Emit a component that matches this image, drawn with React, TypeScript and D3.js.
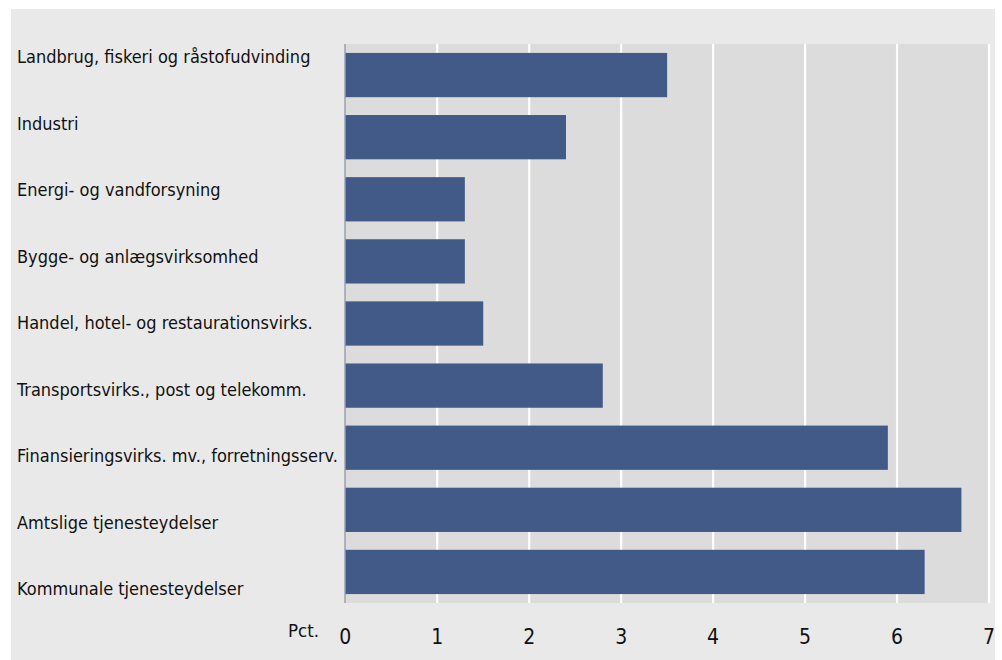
import React from "react";
import * as d3 from "d3";

const categories = [
  "Landbrug, fiskeri og råstofudvinding",
  "Industri",
  "Energi- og vandforsyning",
  "Bygge- og anlægsvirksomhed",
  "Handel, hotel- og restaurationsvirks.",
  "Transportsvirks., post og telekomm.",
  "Finansieringsvirks. mv., forretningsserv.",
  "Amtslige tjenesteydelser",
  "Kommunale tjenesteydelser",
];
const values = [3.5, 2.4, 1.3, 1.3, 1.5, 2.8, 5.9, 6.7, 6.3];
const xTicks = [0, 1, 2, 3, 4, 5, 6, 7];
const unitLabel = "Pct.";

const W = 1002;
const H = 660;
const panel = { x: 11, y: 9, w: 984, h: 651 };
const plot = { left: 345, right: 990, top: 44, bottom: 603 };
const FONT = "'DejaVu Sans Condensed', 'DejaVu Sans', sans-serif";

export default function App() {
  const x = d3.scaleLinear().domain([0, 7]).range([plot.left + 0.3, 989]);
  const y = d3
    .scaleBand<string>()
    .domain(categories)
    .range([plot.top, plot.bottom])
    .paddingInner(0.287)
    .paddingOuter(0.1435);
  const labelY = d3
    .scalePoint<string>()
    .domain(categories)
    .range([63, 595]);

  return (
    <svg
      width={W}
      height={H}
      style={{ position: "absolute", left: 0, top: 0, background: "#ffffff" }}
      fontFamily={FONT}
    >
      <rect x={panel.x} y={panel.y} width={panel.w} height={panel.h} fill="#e9e9e9" />
      <rect
        x={plot.left}
        y={plot.top}
        width={plot.right - plot.left}
        height={plot.bottom - plot.top}
        fill="#dcdcdc"
      />
      {xTicks.slice(1).map((t) => (
        <line
          key={t}
          x1={x(t)}
          x2={x(t)}
          y1={plot.top}
          y2={plot.bottom}
          stroke="#ffffff"
          strokeWidth={2.2}
        />
      ))}
      {categories.map((c, i) => (
        <rect
          key={c}
          x={x(0)}
          y={y(c)}
          width={x(values[i]) - x(0)}
          height={y.bandwidth()}
          fill="#415a87"
        />
      ))}
      <line
        x1={plot.left}
        x2={plot.left}
        y1={plot.top}
        y2={plot.bottom}
        stroke="#8890a4"
        strokeWidth={1.2}
      />
      {categories.map((c) => (
        <text key={c} x={17} y={labelY(c)} fontSize={18} fill="#111111">
          {c}
        </text>
      ))}
      {xTicks.map((t) => (
        <text
          key={t}
          x={x(t)}
          y={644}
          fontSize={21}
          textAnchor="middle"
          fill="#111111"
        >
          {t}
        </text>
      ))}
      <text x={319} y={637} fontSize={18.5} textAnchor="end" fill="#111111">
        {unitLabel}
      </text>
    </svg>
  );
}
